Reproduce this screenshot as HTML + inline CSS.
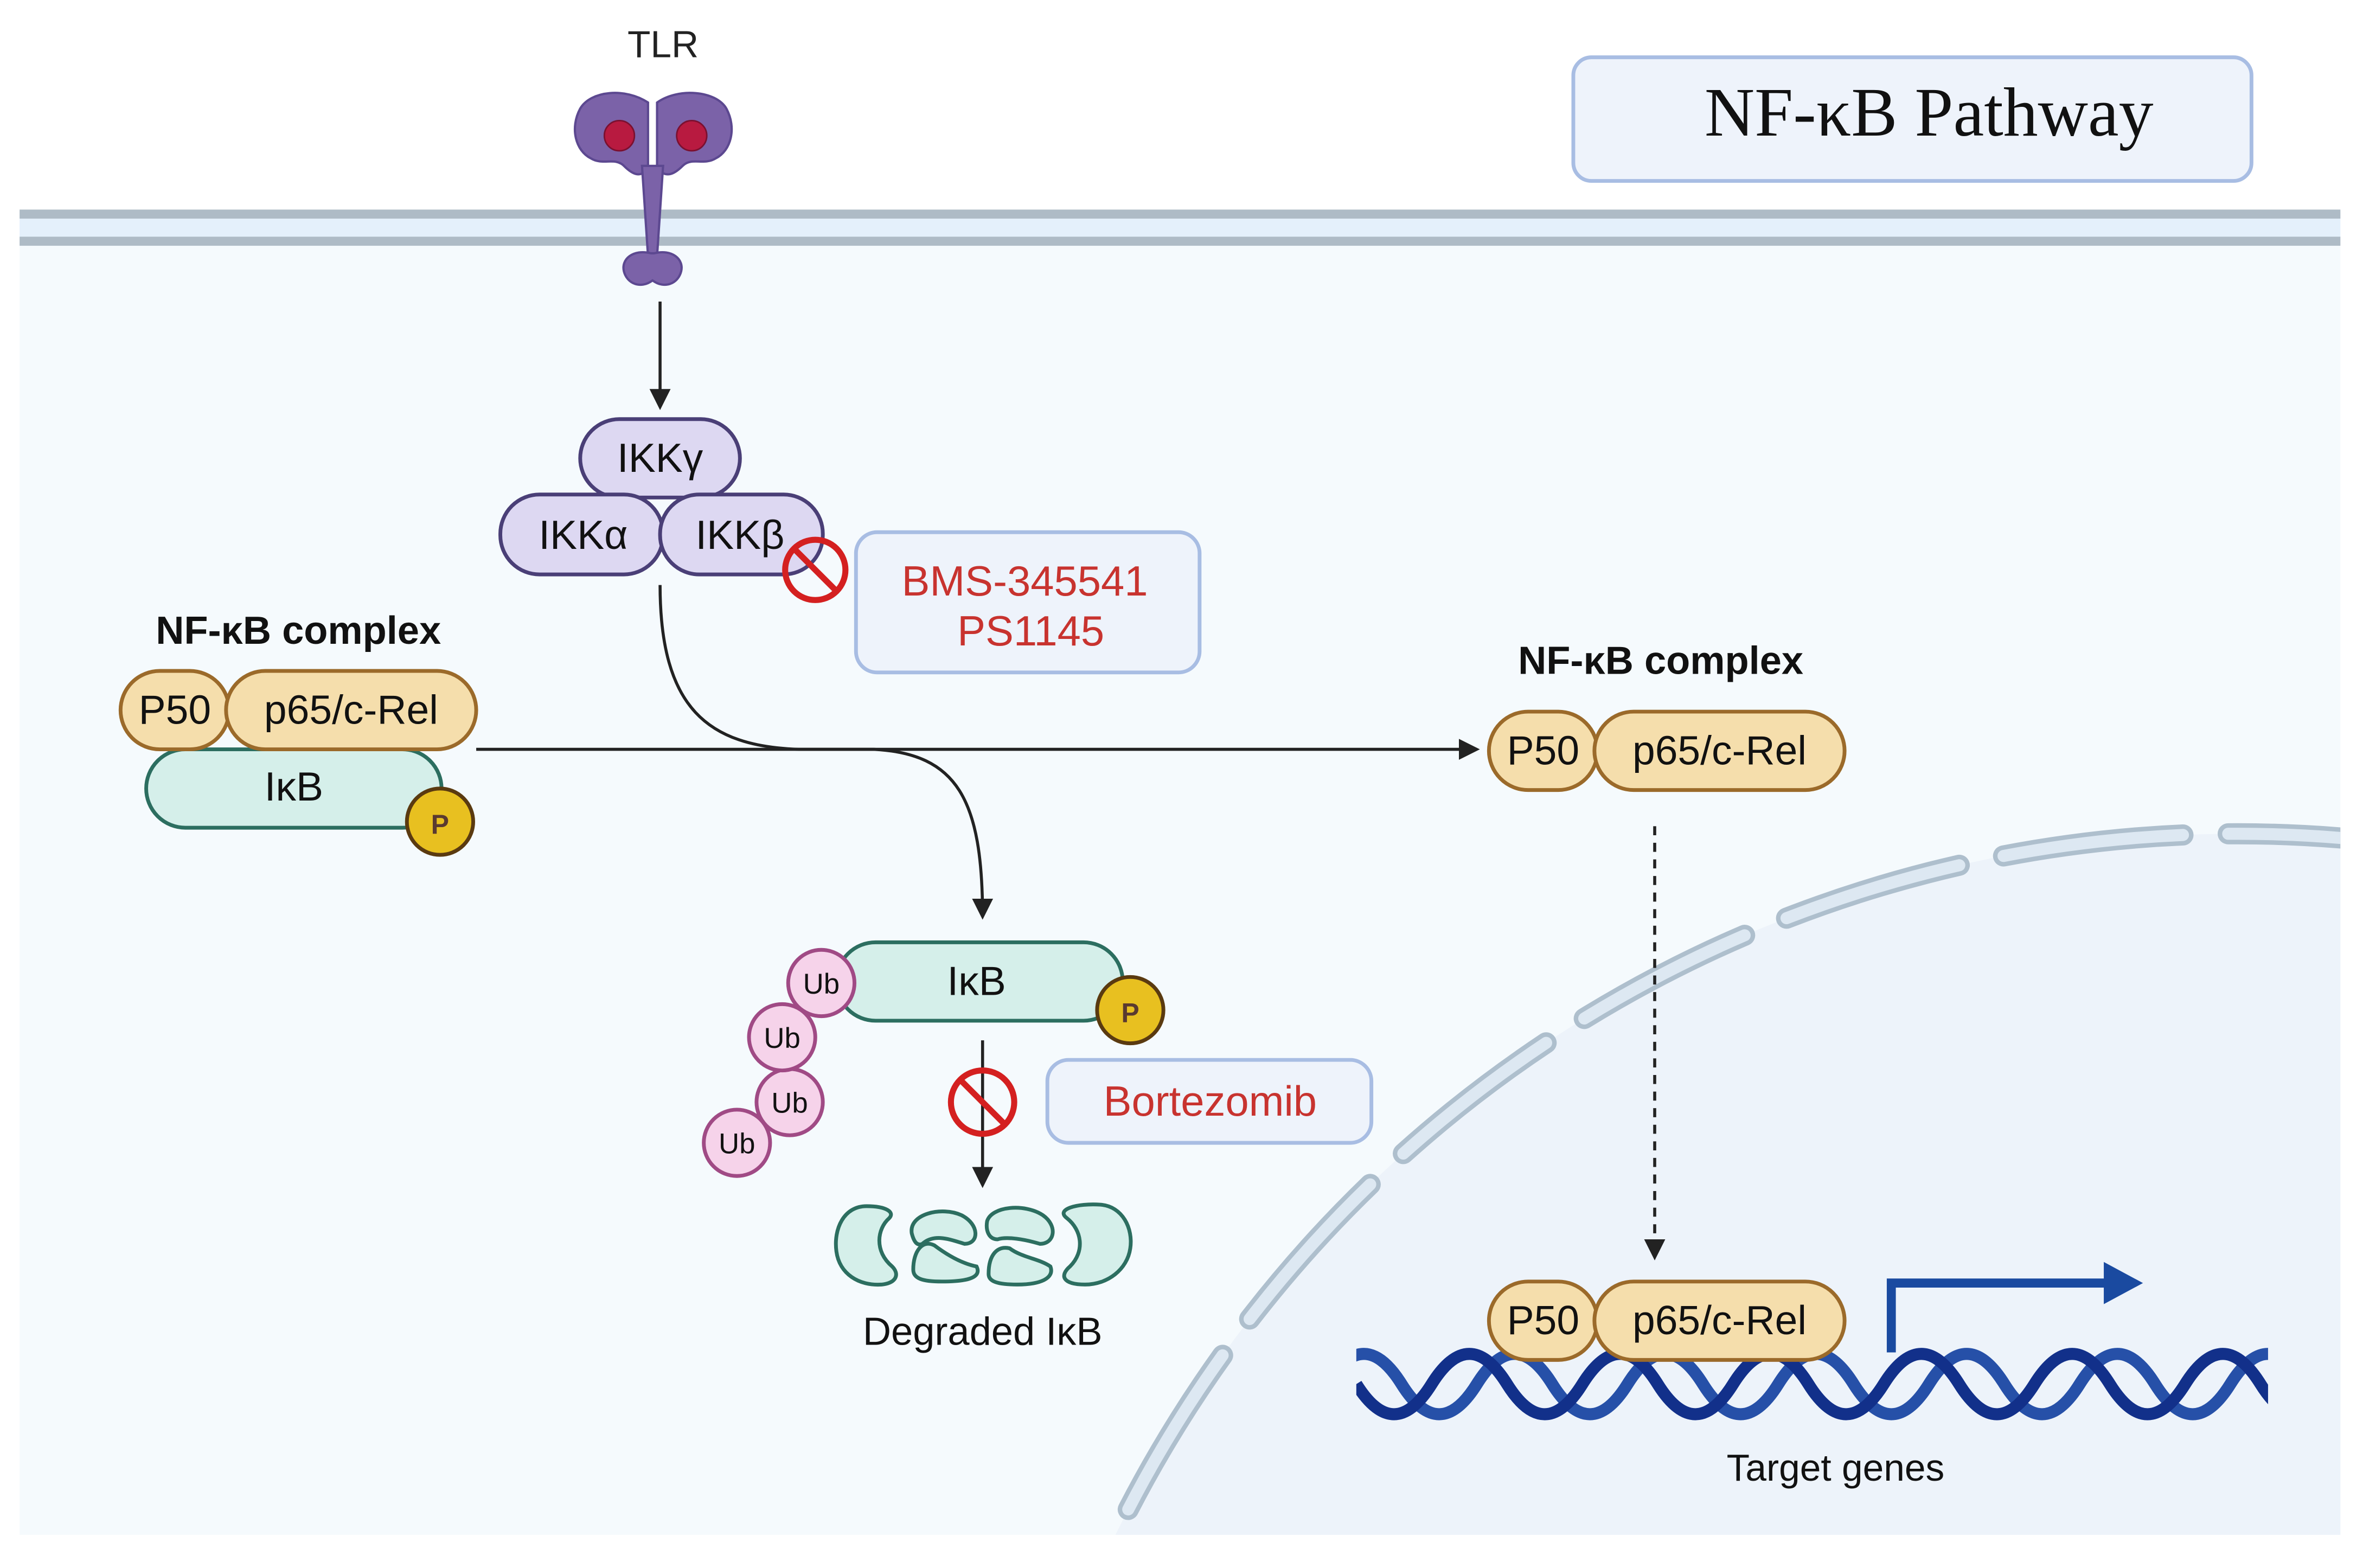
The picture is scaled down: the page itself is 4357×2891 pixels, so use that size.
<!DOCTYPE html>
<html><head><meta charset="utf-8"><style>
html,body{margin:0;padding:0;background:#fff;width:4357px;height:2891px;overflow:hidden}
svg{display:block}
text{font-family:"Liberation Sans",sans-serif}
</style></head><body>
<svg width="4357" height="2891" viewBox="0 0 1568 1040" preserveAspectRatio="none" xmlns="http://www.w3.org/2000/svg">
<defs>
<clipPath id="cell"><rect x="13" y="160" width="1540" height="858"/></clipPath>
<marker id="ah" markerWidth="14" markerHeight="14" refX="12" refY="7" orient="auto" markerUnits="userSpaceOnUse"><path d="M0,0 L14,7 L0,14 Z" fill="#222"/></marker>
</defs>
<rect width="1568" height="1040" fill="#fff"/>
<rect x="13" y="140" width="1540" height="878" fill="#f5fafd"/>
<rect x="13" y="140" width="1540" height="20" fill="#e4f0fb"/>
<rect x="13" y="139" width="1540" height="6" fill="#aebbc6"/>
<rect x="13" y="157" width="1540" height="6" fill="#aebbc6"/>
<g clip-path="url(#cell)">
<circle cx="1485" cy="1382" r="829" fill="#edf3fa"/>
<circle cx="1485" cy="1382" r="829" fill="none" stroke="#aebfcd" stroke-width="14" stroke-dasharray="120 30" stroke-linecap="round"/>
<circle cx="1485" cy="1382" r="829" fill="none" stroke="#dde8f2" stroke-width="8" stroke-dasharray="120 30" stroke-linecap="round"/>
</g>
<rect x="1044" y="38" width="450" height="82" rx="12" fill="#eef3fb" stroke="#a8bde3" stroke-width="2.5"/>
<text x="1280" y="90" text-anchor="middle" font-size="46" style="font-family:'Liberation Serif',serif" fill="#111">NF-κB Pathway</text>
<text x="440" y="38" text-anchor="middle" font-size="25" fill="#222">TLR</text>
<g fill="#7b62a8" stroke="#5c4890" stroke-width="1.5">
<path d="M430,68 C415,58 392,60 385,72 C378,85 382,100 392,105 C400,110 408,104 414,110 C420,116 425,118 430,112 Z"/>
<path d="M436,68 C450,58 475,60 482,72 C489,85 485,100 475,105 C467,110 459,104 453,110 C447,116 442,118 436,112 Z"/>
<path d="M426,110 L430,170 L436,170 L440,110 Z"/>
<path d="M432,168 C420,165 412,172 414,180 C416,188 425,192 433,186 C441,192 450,188 452,180 C454,172 446,165 434,168 Z"/>
</g>
<circle cx="411" cy="90" r="10" fill="#b81a40" stroke="#7a1030"/>
<circle cx="459" cy="90" r="10" fill="#b81a40" stroke="#7a1030"/>
<line x1="438" y1="200" x2="438" y2="270" stroke="#222" stroke-width="2" marker-end="url(#ah)"/>
<g fill="#ddd8f2" stroke="#4a3f77" stroke-width="2.5">
<rect x="385" y="278" width="106" height="52" rx="26"/>
<rect x="332" y="328" width="108" height="53" rx="26"/>
<rect x="438" y="328" width="108" height="53" rx="26"/>
</g>
<g font-size="27" fill="#111" text-anchor="middle">
<text x="438" y="313">IKKγ</text>
<text x="387" y="364">IKKα</text>
<text x="491" y="364">IKKβ</text>
</g>
<g stroke="#d42020" stroke-width="4" fill="none"><circle cx="541" cy="378" r="20"/><line x1="527" y1="364" x2="555" y2="392"/></g>
<rect x="568" y="353" width="228" height="93" rx="14" fill="#eef3fb" stroke="#a8bde3" stroke-width="2.5"/>
<text x="680" y="395" text-anchor="middle" font-size="28" fill="#c8332f">BMS-345541</text>
<text x="684" y="428" text-anchor="middle" font-size="28" fill="#c8332f">PS1145</text>
<path d="M438,388 C438,470 470,495 530,497 L580,497 C635,500 652,530 652,608" fill="none" stroke="#222" stroke-width="2" marker-end="url(#ah)"/>
<text x="198" y="427" text-anchor="middle" font-size="26" font-weight="bold" fill="#111">NF-κB complex</text>
<rect x="97" y="497" width="196" height="52" rx="26" fill="#d5efea" stroke="#2c6e60" stroke-width="2.5"/>
<text x="195" y="531" text-anchor="middle" font-size="27" fill="#111">IκB</text>
<rect x="80" y="445" width="72" height="52" rx="26" fill="#f5deac" stroke="#9b6a2a" stroke-width="2.5"/>
<rect x="150" y="445" width="166" height="52" rx="26" fill="#f5deac" stroke="#9b6a2a" stroke-width="2.5"/>
<text x="116" y="480" text-anchor="middle" font-size="27" fill="#111">P50</text>
<text x="233" y="480" text-anchor="middle" font-size="27" fill="#111">p65/c-Rel</text>
<circle cx="292" cy="545" r="22" fill="#e8c020" stroke="#5a3a10" stroke-width="2.5"/>
<text x="292" y="553" text-anchor="middle" font-size="18" font-weight="bold" fill="#5a3a30">P</text>
<line x1="316" y1="497" x2="980" y2="497" stroke="#222" stroke-width="2" marker-end="url(#ah)"/>
<text x="1102" y="447" text-anchor="middle" font-size="26" font-weight="bold" fill="#111">NF-κB complex</text>
<rect x="988" y="472" width="72" height="52" rx="26" fill="#f5deac" stroke="#9b6a2a" stroke-width="2.5"/>
<rect x="1058" y="472" width="166" height="52" rx="26" fill="#f5deac" stroke="#9b6a2a" stroke-width="2.5"/>
<text x="1024" y="507" text-anchor="middle" font-size="27" fill="#111">P50</text>
<text x="1141" y="507" text-anchor="middle" font-size="27" fill="#111">p65/c-Rel</text>
<line x1="1098" y1="548" x2="1098" y2="834" stroke="#222" stroke-width="2" stroke-dasharray="6 5" marker-end="url(#ah)"/>
<!-- DNA -->
<svg x="900" y="880" width="605" height="80" viewBox="900 880 605 80" overflow="hidden">
<path d="M880,918 Q905,878 930,918 T980,918 T1030,918 T1080,918 T1130,918 T1180,918 T1230,918 T1280,918 T1330,918 T1380,918 T1430,918 T1480,918 T1530,918" fill="none" stroke="#2650a8" stroke-width="8"/>
<path d="M900,918 Q925,958 950,918 T1000,918 T1050,918 T1100,918 T1150,918 T1200,918 T1250,918 T1300,918 T1350,918 T1400,918 T1450,918 T1500,918 T1550,918" fill="none" stroke="#12308a" stroke-width="8"/>
</svg>
<rect x="988" y="850" width="72" height="52" rx="26" fill="#f5deac" stroke="#9b6a2a" stroke-width="2.5"/>
<rect x="1058" y="850" width="166" height="52" rx="26" fill="#f5deac" stroke="#9b6a2a" stroke-width="2.5"/>
<text x="1024" y="885" text-anchor="middle" font-size="27" fill="#111">P50</text>
<text x="1141" y="885" text-anchor="middle" font-size="27" fill="#111">p65/c-Rel</text>
<path d="M1255,897 L1255,851 L1398,851" fill="none" stroke="#1a4aa0" stroke-width="6"/>
<path d="M1396,837 L1422,851 L1396,865 Z" fill="#1a4aa0"/>
<text x="1218" y="982" text-anchor="middle" font-size="25" fill="#111">Target genes</text>
<rect x="555" y="625" width="190" height="52" rx="26" fill="#d5efea" stroke="#2c6e60" stroke-width="2.5"/>
<text x="648" y="660" text-anchor="middle" font-size="27" fill="#111">IκB</text>
<circle cx="750" cy="670" r="22" fill="#e8c020" stroke="#5a3a10" stroke-width="2.5"/>
<text x="750" y="678" text-anchor="middle" font-size="18" font-weight="bold" fill="#5a3a30">P</text>
<g fill="#f6d3ea" stroke="#a04a85" stroke-width="2.5">
<circle cx="489" cy="758" r="22"/><circle cx="524" cy="731" r="22"/><circle cx="519" cy="688" r="22"/><circle cx="545" cy="652" r="22"/>
</g>
<g font-size="19" fill="#111" text-anchor="middle">
<text x="489" y="765">Ub</text><text x="524" y="738">Ub</text><text x="519" y="695">Ub</text><text x="545" y="659">Ub</text>
</g>
<line x1="652" y1="690" x2="652" y2="786" stroke="#222" stroke-width="2" marker-end="url(#ah)"/>
<g stroke="#d42020" stroke-width="4" fill="none"><circle cx="652" cy="731" r="21"/><line x1="637" y1="716" x2="667" y2="746"/></g>
<rect x="695" y="703" width="215" height="55" rx="14" fill="#eef3fb" stroke="#a8bde3" stroke-width="2.5"/>
<text x="803" y="740" text-anchor="middle" font-size="28" fill="#c8332f">Bortezomib</text>
<g fill="#d5efea" stroke="#2c6e60" stroke-width="2.5">
<path d="M575,800 C560,800 553,815 555,830 C557,845 570,853 585,852 C595,851 597,845 592,840 C580,830 582,815 590,808 C594,804 588,800 575,800 Z"/>
<path d="M730,799 C745,800 752,815 750,828 C748,842 735,852 720,852 C705,852 703,846 710,840 C720,830 718,816 708,808 C700,802 715,798 730,799 Z"/>
<path d="M605,818 C603,805 625,800 638,806 C650,812 650,825 640,825 C630,822 620,818 612,825 C608,827 606,822 605,818 Z"/>
<path d="M606,842 C606,830 612,822 620,826 C628,832 638,838 648,840 C652,848 640,850 625,850 C612,850 606,848 606,842 Z"/>
<path d="M655,810 C658,800 680,798 692,806 C702,813 700,825 690,825 C680,822 668,820 662,822 C656,822 654,816 655,810 Z"/>
<path d="M656,845 C656,832 662,826 670,828 C678,834 690,835 697,840 C700,848 690,852 675,852 C662,852 656,850 656,845 Z"/>
</g>
<text x="652" y="892" text-anchor="middle" font-size="26" fill="#111">Degraded IκB</text>
</svg>
</body></html>
